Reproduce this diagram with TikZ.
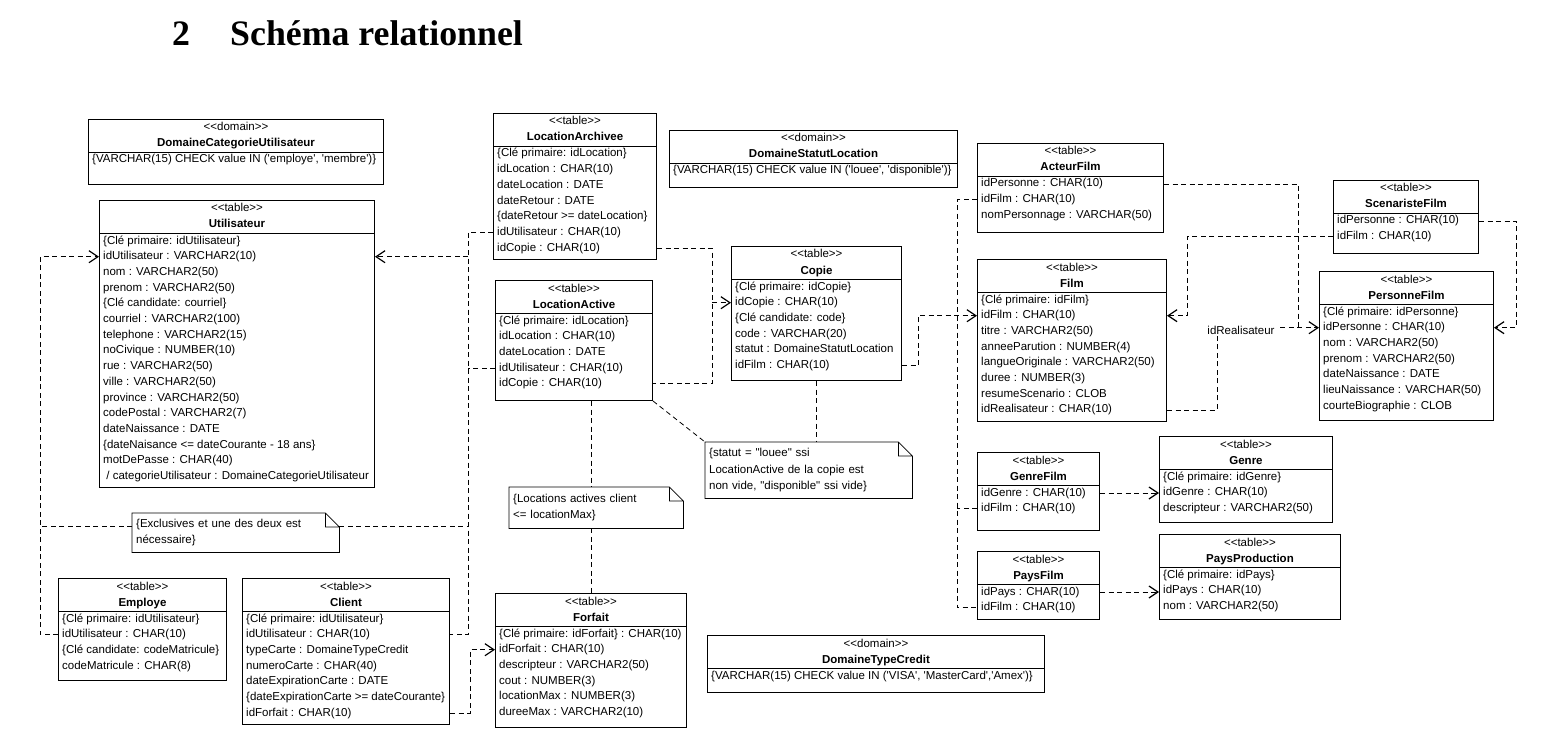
\documentclass[tikz,border=0pt]{standalone}
\usepackage{fontspec}
\setmainfont{Liberation Sans}[Ligatures=TeXOff]
\newfontfamily\titlefont{Liberation Serif}[Ligatures=TeXOff]
\usetikzlibrary{arrows.meta,calc}

\newcommand\umlfont{\fontsize{11.5}{14}\selectfont}
\newcommand\notefont{\fontsize{11.5}{16.5}\selectfont}

% table box: name, x, y, width, height, stereotype, title, rows
\newcommand\dbtable[8]{%
  \node[tbl,minimum width=#4pt,minimum height=#5pt] (#1) at (#2,#3) {};
  \node[hd] (#1-st) at ([yshift=-12pt]#1.north) {<<#6>>};
  \node[hd] (#1-ti) at ([yshift=-28pt]#1.north) {\bfseries #7};
  \draw[line width=0.7pt] ([yshift=-33pt]#1.north west) -- ([yshift=-33pt]#1.north east);
  \foreach \r [count=\i] in {#8}
    \node[row] (#1-\i) at ([xshift=4pt,yshift={-41-(\i-1)*15.7}]#1.north west) {\r};
}

% note outline with folded corner
\newcommand\dogear[1]{%
  \draw[line width=0.8pt] (#1.north west) -- ([xshift=-14pt]#1.north east)
    -- ([yshift=-14pt]#1.north east) -- (#1.south east) -- (#1.south west) -- cycle
    ([xshift=-14pt]#1.north east) |- ([yshift=-14pt]#1.north east);
}

\begin{document}
\begin{tikzpicture}[x=1pt,y=-1pt,
  tbl/.style={draw,line width=1pt,anchor=north west,inner sep=0pt},
  hd/.style={anchor=base,inner sep=0pt,font=\umlfont},
  row/.style={anchor=west,inner sep=0pt,text height=8.5pt,text depth=2.5pt,font=\umlfont},
  note/.style={anchor=north west,inner xsep=4pt,inner ysep=0pt,align=left,font=\notefont},
  link/.style={line width=0.8pt,dash pattern=on 5pt off 3.5pt},
  fk/.style={link,-{Straight Barb[length=9pt,width=12pt,line width=1.2pt]}}]

\path[use as bounding box,fill=white] (0,0) rectangle (1542,754);

% title
\node[anchor=base west,inner sep=0pt,font=\titlefont\fontsize{35.8}{40}\selectfont\bfseries] (secnum) at (172,46) {2};
\node[anchor=base west,inner sep=0pt,font=\titlefont\fontsize{35.8}{40}\selectfont\bfseries] (sectitle) at (230,46) {Schéma relationnel};

% tables
\dbtable{domcat}{88}{119}{295}{65}{domain}{DomaineCategorieUtilisateur}{{\{VARCHAR(15) CHECK value IN ('employe', 'membre')\}}}
\dbtable{util}{99}{200}{275}{287}{table}{Utilisateur}{\{Clé primaire: idUtilisateur\}, idUtilisateur : VARCHAR2(10), nom : VARCHAR2(50), prenom : VARCHAR2(50), \{Clé candidate: courriel\}, courriel : VARCHAR2(100), telephone : VARCHAR2(15), noCivique : NUMBER(10), rue : VARCHAR2(50), ville : VARCHAR2(50), province : VARCHAR2(50), codePostal : VARCHAR2(7), dateNaissance : DATE, \{dateNaisance <= dateCourante - 18 ans\}, motDePasse : CHAR(40), {\ / categorieUtilisateur : DomaineCategorieUtilisateur}}
\dbtable{locarch}{493}{113}{163}{146}{table}{LocationArchivee}{\{Clé primaire: idLocation\}, idLocation : CHAR(10), dateLocation : DATE, dateRetour : DATE, \{dateRetour >= dateLocation\}, idUtilisateur : CHAR(10), idCopie : CHAR(10)}
\dbtable{locact}{495}{280}{157}{120}{table}{LocationActive}{\{Clé primaire: idLocation\}, idLocation : CHAR(10), dateLocation : DATE, idUtilisateur : CHAR(10), idCopie : CHAR(10)}
\dbtable{domstat}{669}{130}{288}{57}{domain}{DomaineStatutLocation}{{\{VARCHAR(15) CHECK value IN ('louee', 'disponible')\}}}
\dbtable{copie}{731}{246}{170}{134}{table}{Copie}{\{Clé primaire: idCopie\}, idCopie : CHAR(10), \{Clé candidate: code\}, code : VARCHAR(20), statut : DomaineStatutLocation, idFilm : CHAR(10)}
\dbtable{acteur}{977}{143}{186}{89}{table}{ActeurFilm}{idPersonne : CHAR(10), idFilm : CHAR(10), nomPersonnage : VARCHAR(50)}
\dbtable{film}{977}{259}{189}{162}{table}{Film}{\{Clé primaire: idFilm\}, idFilm : CHAR(10), titre : VARCHAR2(50), anneeParution : NUMBER(4), langueOriginale : VARCHAR2(50), duree : NUMBER(3), resumeScenario : CLOB, idRealisateur : CHAR(10)}
\dbtable{scen}{1333}{180}{145}{73}{table}{ScenaristeFilm}{idPersonne : CHAR(10), idFilm : CHAR(10)}
\dbtable{pers}{1319}{271}{174}{149}{table}{PersonneFilm}{\{Clé primaire: idPersonne\}, idPersonne : CHAR(10), nom : VARCHAR2(50), prenom : VARCHAR2(50), dateNaissance : DATE, lieuNaissance : VARCHAR(50), courteBiographie : CLOB}
\dbtable{genrefilm}{977}{452}{122}{78}{table}{GenreFilm}{idGenre : CHAR(10), idFilm : CHAR(10)}
\dbtable{genre}{1159}{436}{173}{86}{table}{Genre}{\{Clé primaire: idGenre\}, idGenre : CHAR(10), descripteur : VARCHAR2(50)}
\dbtable{paysfilm}{977}{551}{122}{68}{table}{PaysFilm}{idPays : CHAR(10), idFilm : CHAR(10)}
\dbtable{paysprod}{1159}{534}{181}{85}{table}{PaysProduction}{\{Clé primaire: idPays\}, idPays : CHAR(10), nom : VARCHAR2(50)}
\dbtable{employe}{58}{578}{168}{102}{table}{Employe}{\{Clé primaire: idUtilisateur\}, idUtilisateur : CHAR(10), \{Clé candidate: codeMatricule\}, codeMatricule : CHAR(8)}
\dbtable{client}{242}{578}{207}{146}{table}{Client}{\{Clé primaire: idUtilisateur\}, idUtilisateur : CHAR(10), typeCarte : DomaineTypeCredit, numeroCarte : CHAR(40), dateExpirationCarte : DATE, \{dateExpirationCarte >= dateCourante\}, idForfait : CHAR(10)}
\dbtable{forfait}{495}{593}{191}{134}{table}{Forfait}{\{Clé primaire: idForfait\} : CHAR(10), idForfait : CHAR(10), descripteur : VARCHAR2(50), cout : NUMBER(3), locationMax : NUMBER(3), dureeMax : VARCHAR2(10)}
\dbtable{domtype}{707}{635}{337}{57}{domain}{DomaineTypeCredit}{{\{VARCHAR(15) CHECK value IN ('VISA', 'MasterCard','Amex')\}}}

% notes
\node[note,text width=199pt,minimum height=39pt] (nexcl) at (132,513) {\{Exclusives et une des deux est\\nécessaire\}};
\dogear{nexcl}
\node[note,text width=166pt,minimum height=41pt] (nloc) at (509,487) {\{Locations actives client\\<= locationMax\}};
\dogear{nloc}
\node[note,text width=199pt,minimum height=56pt] (nstat) at (705,442) {\{statut = "louee" ssi\\LocationActive de la copie est\\non vide, "disponible" ssi vide\}};
\dogear{nstat}

% vertical runs of the connectors
\coordinate (busU) at (40,0);
\coordinate (busL) at (468,0);
\coordinate (busF) at (470,0);
\coordinate (busC) at (712,0);
\coordinate (busM) at (918,0);
\coordinate (busA) at (957,0);
\coordinate (busSF) at (1187,0);
\coordinate (busR) at (1217,0);
\coordinate (busP) at (1298,0);
\coordinate (busS) at (1516,0);
\coordinate (exclW) at ([yshift=6pt]nexcl.west);
\coordinate (exclE) at ([yshift=6pt]nexcl.east);

% foreign keys to Utilisateur
\draw[fk] (employe.west |- employe-2) -- (busU |- employe-2) |- (util.west |- util-2);
\draw[link] (exclW) -- (busU |- exclW);
\draw[link] (exclE) -- (busL |- exclE);
\draw[link] (locarch.west |- locarch-6) -- (busL |- locarch-6) -- (busL |- client-2) -- (client.east |- client-2);
\draw[link] (locact.west |- locact-4) -- (busL |- locact-4);
\draw[fk] (busL |- util-2) -- (util.east |- util-2);
% Forfait
\draw[fk] (client.east |- client-7) -- (busF |- client-7) |- (forfait.west |- forfait-2);
\draw[link] (locact.south -| forfait.north) -- (nloc.north -| forfait.north);
\draw[link] (nloc.south -| forfait.north) -- (forfait.north);
% Copie
\draw[link] (locarch.east |- locarch-7) -- (busC |- locarch-7) -- (busC |- locact-5) -- (locact.east |- locact-5);
\draw[fk] (busC |- copie-2) -- (copie.west |- copie-2);
\draw[link] (locact.south east) -- (nstat.north west);
\draw[link] (copie.south) -- (nstat.north -| copie.south);
% Film
\draw[fk] (copie.east |- copie-6) -- (busM |- copie-6) |- (film.west |- film-2);
\draw[link] (acteur.west |- acteur-2) -- (busA |- acteur-2) -- (busA |- paysfilm-2) -- (paysfilm.west |- paysfilm-2);
\draw[link] (genrefilm.west |- genrefilm-2) -- (busA |- genrefilm-2);
\draw[fk] (scen.west |- scen-2) -- (busSF |- scen-2) |- (film.east |- film-2);
% PersonneFilm
\draw[fk] (film.east |- film-8) -- (busR |- film-8) |- (pers.west |- pers-2);
\draw[link] (acteur.east |- acteur-1) -- (busP |- acteur-1) -- (busP |- pers-2);
\node[fill=white,inner xsep=4pt,inner ysep=2pt,font=\umlfont] (lblreal) at (1241,330) {idRealisateur};
\draw[fk] (scen.east |- scen-1) -- (busS |- scen-1) |- (pers.east |- pers-2);
% Genre, PaysProduction
\draw[fk] (genrefilm.east |- genrefilm-1) -- (genre.west |- genrefilm-1);
\draw[fk] (paysfilm.east |- paysfilm-1) -- (paysprod.west |- paysfilm-1);
\end{tikzpicture}
\end{document}
